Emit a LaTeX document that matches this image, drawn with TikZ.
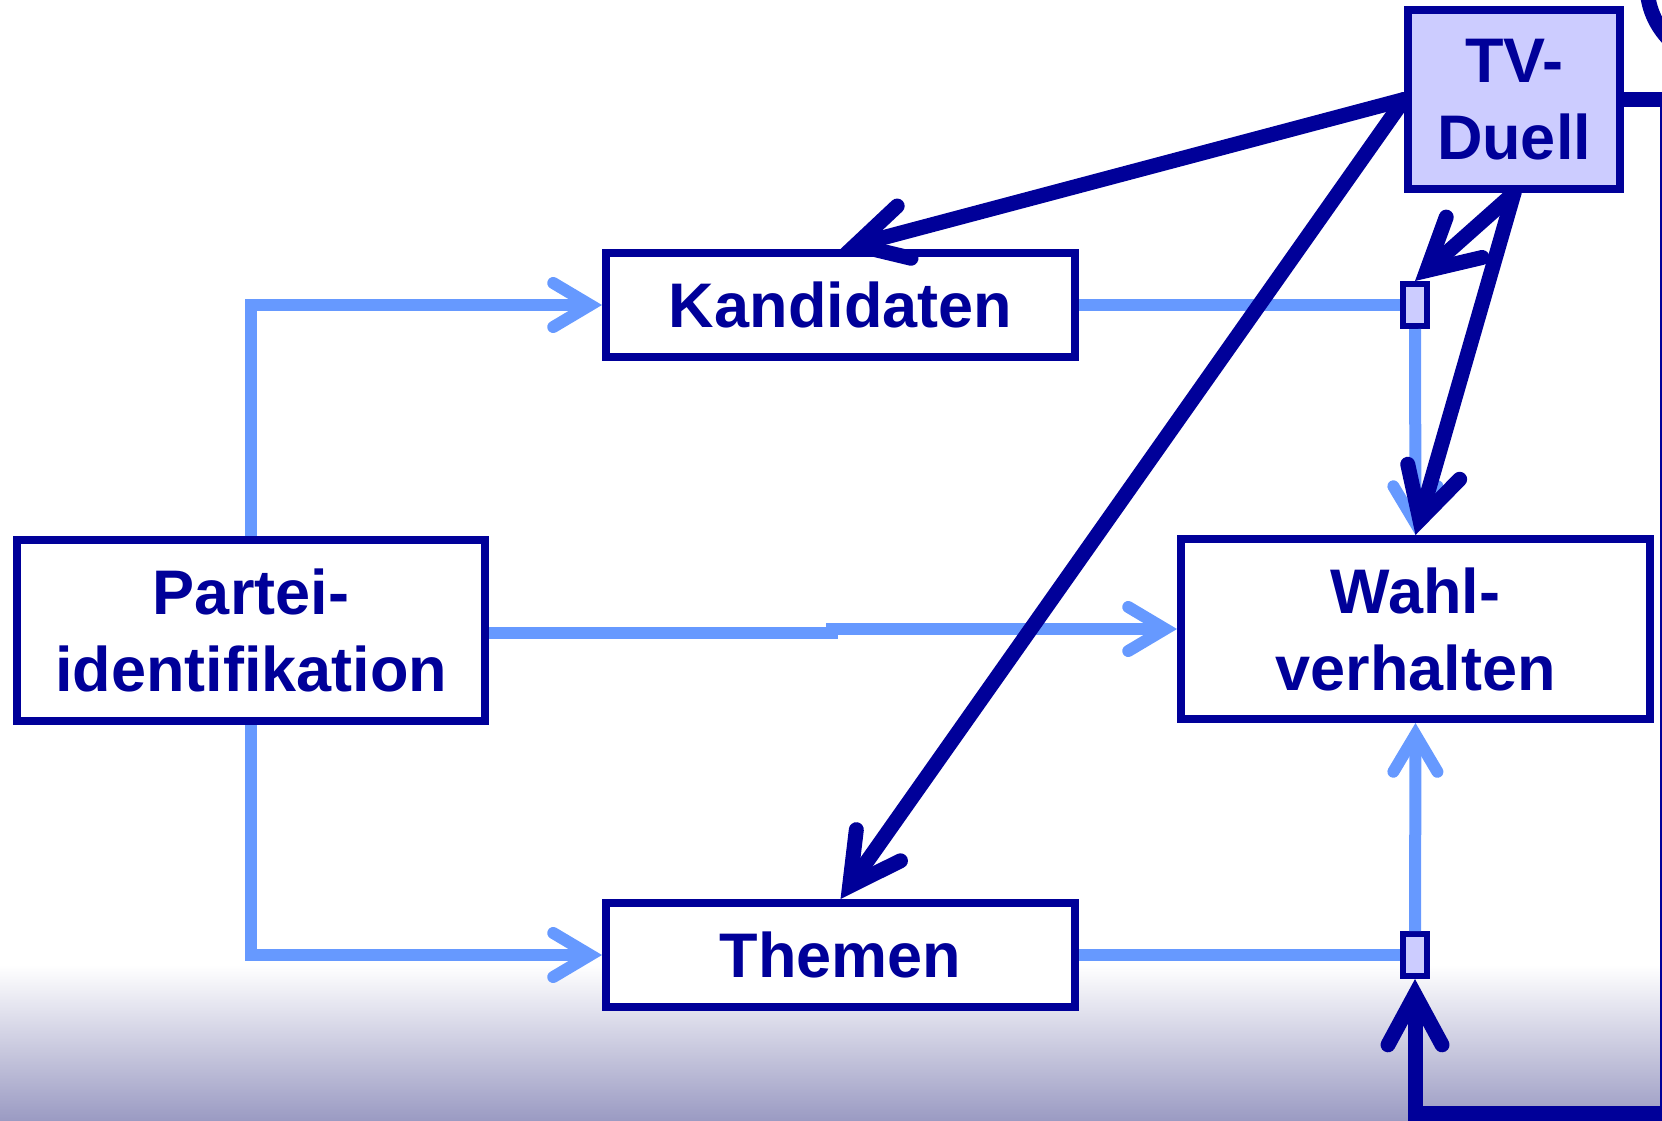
\documentclass[tikz,border=0pt]{standalone}
\usepackage{fontspec}
\setmainfont{Liberation Sans}
\usetikzlibrary{arrows.meta,calc}
\definecolor{navy}{RGB}{0,0,153}
\definecolor{lblue}{RGB}{102,153,255}
\definecolor{lav}{RGB}{204,204,255}
\definecolor{bgbot}{RGB}{155,155,195}
\begin{document}
\begin{tikzpicture}[x=1pt,y=-1pt,
  box/.style={draw=navy, line width=8pt, fill=white, text=navy,
    font=\fontsize{63}{77}\selectfont\bfseries, align=center, inner sep=0pt},
  tinybox/.style={draw=navy, line width=6pt, fill=lav, minimum width=24pt,
    minimum height=42pt, inner sep=0pt},
  lbline/.style={draw=lblue, line width=12pt},
  lbarrow/.style={lbline, -{Straight Barb[length=37pt,width=44pt,line cap=round]}},
  dkline/.style={draw=navy, line width=15pt, line cap=round},
  dkarrow/.style={dkline, -{Straight Barb[length=50pt,width=54pt,line cap=round]}},
]
\useasboundingbox (0,0) rectangle (1662,1120);
\shade[top color=white, bottom color=bgbot] (0,965) rectangle (1662,1120);

% boxes
\node[box, minimum width=468pt, minimum height=181pt] (pa) at (251,630.5) {Partei-\\identifikation};
\node[box, minimum width=469pt, minimum height=104pt] (ka) at (840.5,305) {Kandidaten};
\node[box, minimum width=469pt, minimum height=104pt] (th) at (840.5,955) {Themen};
\node[box, minimum width=469pt, minimum height=180pt] (wa) at (1415.5,629) {Wahl-\\verhalten};
\node[box, fill=lav, minimum width=212pt, minimum height=179pt] (tv) at (1514,99.5) {TV-\\Duell};

% light blue connectors
\draw[lbarrow] (pa.north) |- (ka.west);
\draw[lbarrow] (pa.south) |- (th.west);
\draw[lbarrow] (pa.east) ++(0,2) -- (832,632.5) -- (832,629) -- (wa.west);
\node[tinybox] (s1) at (1415,305) {};
\node[tinybox] (s2) at (1415,955) {};
\draw[lbline] (ka.east) -- (s1.west);
\draw[lbline] (th.east) -- (s2.west);
\draw[lbarrow] (s1.south) -- (wa.north);
\draw[lbarrow] (s2.north) -- (wa.south);

% dark connectors
\draw[dkarrow] (tv.west) -- (ka.north);
\draw[dkarrow] (tv.west) -- (th.north);
\draw[dkarrow] (tv.south) -- (s1.north);
\draw[dkarrow] (tv.south) -- (wa.north);
\coordinate (loopc) at (1667,1113);
\draw[dkarrow, line join=miter] (tv.east) -| (loopc) -| (s2.south);

% partial ring at top right
\draw[navy, line width=15pt] (1725,-15) circle (78);
\end{tikzpicture}
\end{document}
